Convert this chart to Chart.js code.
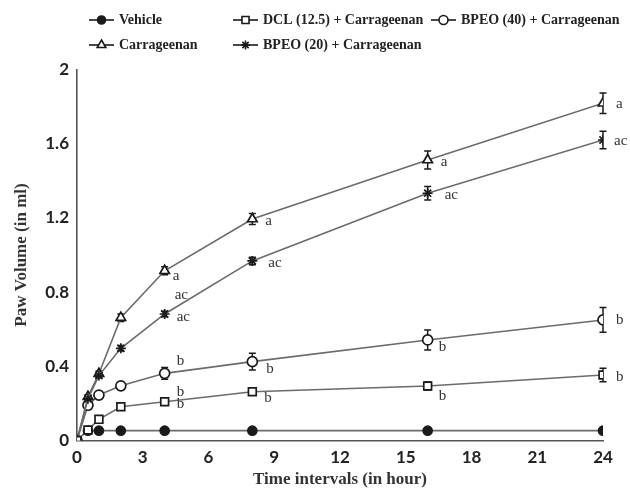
<!DOCTYPE html>
<html>
<head>
<meta charset="utf-8">
<script src="https://cdn.jsdelivr.net/npm/chart.js@4"></script>
<style>
  html, body { margin: 0; padding: 0; background: #fff; }
  #wrap { width: 630px; height: 490px; position: relative; }
</style>
</head>
<body>
<div id="wrap"><canvas id="paw" width="630" height="490"></canvas></div>
<script>
// Dados (volume da pata em ml)
const hours = [0, 0.5, 1, 2, 4, 8, 16, 24];
const xTicks = [0, 3, 6, 9, 12, 15, 18, 21, 24];
const yTicks = [0, 0.4, 0.8, 1.2, 1.6, 2];

const seriesNames = ['Vehicle', 'Carrageenan', 'DCL (12.5) + Carrageenan', 'BPEO (20) + Carrageenan', 'BPEO (40) + Carrageenan'];

const vehicle     = [null, 0.053, 0.053, 0.053, 0.053, 0.053, 0.053, 0.053];
const carrageenan = [0, 0.236, 0.36, 0.662, 0.915, 1.194, 1.512, 1.818];
const dcl         = [0, 0.057, 0.114, 0.182, 0.209, 0.263, 0.294, 0.353];
const bpeo20      = [0, 0.225, 0.35, 0.497, 0.682, 0.968, 1.333, 1.62];
const bpeo40      = [0, 0.19, 0.245, 0.295, 0.362, 0.425, 0.542, 0.65];

// Desvios (barras de erro)
const vehicleErr     = [0, 0, 0, 0, 0, 0, 0, 0];
const carrageenanErr = [0, 0.01, 0.015, 0.02, 0.022, 0.03, 0.048, 0.055];
const dclErr         = [0, 0.005, 0.008, 0.01, 0.012, 0.018, 0.022, 0.036];
const bpeo20Err      = [0, 0.01, 0.012, 0.015, 0.015, 0.02, 0.036, 0.047];
const bpeo40Err      = [0, 0.01, 0.012, 0.02, 0.032, 0.045, 0.054, 0.067];

// Letras de significância: [série, hora, texto]
const sigLetters = [
  [1, 4, 'a'], [1, 8, 'a'], [1, 16, 'a'], [1, 24, 'a'],
  [3, 4, 'ac'], [3, 4, 'ac'], [3, 8, 'ac'], [3, 16, 'ac'], [3, 24, 'ac'],
  [4, 4, 'b'], [4, 8, 'b'], [4, 16, 'b'], [4, 24, 'b'],
  [2, 4, 'b'], [2, 4, 'b'], [2, 8, 'b'], [2, 16, 'b'], [2, 24, 'b']
];
// deslocamentos em pixels (mesma ordem)
const sigOffsets = [
  [8, 5], [13, 2], [13, 2], [13, 1],
  [10, -19], [12, 3], [16, 2], [17, 2], [11, 1],
  [12, -12], [14, 7], [11, 7], [13, 0],
  [12, -10], [12, 2], [12, 6], [11, 10], [13, 2]
];

const LINE = '#6b6b6b';
const MARK = '#1a1a1a';

function pts(vals) {
  return hours.map((h, i) => ({ x: h, y: vals[i] }));
}

const styles = [
  { pointStyle: 'circle', radius: 4.5, fill: MARK, order: 5 },
  { pointStyle: 'triangle', radius: 5.5, fill: '#fff', order: 3 },
  { pointStyle: 'rect', radius: 5.5, fill: '#fff', order: 1 },
  { pointStyle: 'star', radius: 5, fill: '#fff', order: 2 },
  { pointStyle: 'circle', radius: 5, fill: '#fff', order: 4 }
];
const allVals = [vehicle, carrageenan, dcl, bpeo20, bpeo40];
const allErr = [vehicleErr, carrageenanErr, dclErr, bpeo20Err, bpeo40Err];

const datasets = seriesNames.map((name, i) => ({
  label: name,
  data: pts(allVals[i]),
  errors: allErr[i],
  borderColor: LINE,
  borderWidth: 1.6,
  pointStyle: styles[i].pointStyle,
  pointRadius: styles[i].radius,
  pointBackgroundColor: styles[i].fill,
  pointBorderColor: MARK,
  pointBorderWidth: 1.7,
  fill: false,
  tension: 0,
  spanGaps: true,
  order: styles[i].order
}));

// Barras de erro (desenhadas antes das linhas/marcadores)
const errorBars = {
  id: 'errorBars',
  beforeDatasetsDraw(chart) {
    const ctx = chart.ctx;
    const y = chart.scales.y;
    ctx.save();
    ctx.strokeStyle = MARK;
    ctx.lineWidth = 1.5;
    chart.data.datasets.forEach((ds, di) => {
      const meta = chart.getDatasetMeta(di);
      meta.data.forEach((pt, i) => {
        const v = ds.data[i].y;
        const e = ds.errors[i];
        if (v == null || !e) return;
        const top = y.getPixelForValue(v + e);
        const bot = y.getPixelForValue(v - e);
        ctx.beginPath();
        ctx.moveTo(pt.x, top); ctx.lineTo(pt.x, bot);
        ctx.moveTo(pt.x - 3.5, top); ctx.lineTo(pt.x + 3.5, top);
        ctx.moveTo(pt.x - 3.5, bot); ctx.lineTo(pt.x + 3.5, bot);
        ctx.stroke();
      });
    });
    ctx.restore();
  }
};

// Letras a / ac / b
const letters = {
  id: 'letters',
  afterDatasetsDraw(chart) {
    const ctx = chart.ctx;
    ctx.save();
    ctx.font = '15px "Liberation Serif"';
    ctx.fillStyle = '#333';
    ctx.textAlign = 'left';
    ctx.textBaseline = 'middle';
    sigLetters.forEach(([s, h, txt], k) => {
      const px = chart.scales.x.getPixelForValue(h);
      const py = chart.scales.y.getPixelForValue(allVals[s][hours.indexOf(h)]);
      ctx.fillText(txt, px + sigOffsets[k][0], py + sigOffsets[k][1]);
    });
    ctx.restore();
  }
};

// Legenda em grade (3 colunas x 2 linhas)
const gridLegend = {
  id: 'gridLegend',
  afterDraw(chart) {
    const ctx = chart.ctx;
    const cells = [[89, 20], [89, 45], [233, 20], [233, 45], [431, 20]];
    ctx.save();
    chart.data.datasets.forEach((ds, k) => {
      const [x, yy] = cells[k];
      ctx.strokeStyle = MARK;
      ctx.lineWidth = 1.6;
      ctx.beginPath();
      ctx.moveTo(x, yy); ctx.lineTo(x + 25, yy);
      ctx.stroke();
      ctx.fillStyle = ds.pointBackgroundColor;
      Chart.helpers.drawPoint(ctx, {
        pointStyle: ds.pointStyle, radius: ds.pointRadius - 0.5,
        rotation: 0, borderWidth: 1.6
      }, x + 12.5, yy);
      ctx.fillStyle = '#222';
      ctx.font = 'bold 14px "Liberation Serif"';
      ctx.textBaseline = 'middle';
      ctx.textAlign = 'left';
      ctx.fillText(ds.label, x + 30, yy);
    });
    ctx.restore();
  }
};

new Chart(document.getElementById('paw').getContext('2d'), {
  type: 'line',
  data: { datasets },
  options: {
    responsive: false,
    animation: false,
    layout: { padding: { top: 69.5, right: 27, left: 0, bottom: 0 } },
    plugins: { legend: { display: false }, tooltip: { enabled: false } },
    scales: {
      x: {
        type: 'linear',
        min: 0, max: 24,
        afterBuildTicks: (s) => { s.ticks = xTicks.map(v => ({ value: v })); },
        afterFit: (s) => { s.height = 49.5; },
        grid: { display: false, drawTicks: false },
        border: { display: true, color: '#555', width: 1.6 },
        ticks: { padding: 7, color: '#222', font: { family: 'Lato', weight: 'bold', size: 17 } },
        title: {
          display: true, text: 'Time intervals (in hour)', color: '#333',
          padding: { top: 0, bottom: 0 },
          font: { family: 'Liberation Serif', weight: 'bold', size: 17 }
        }
      },
      y: {
        min: 0, max: 2,
        afterBuildTicks: (s) => { s.ticks = yTicks.map(v => ({ value: v })); },
        afterFit: (s) => { s.width = 77; },
        grid: { display: false, drawTicks: false },
        border: { display: true, color: '#555', width: 1.6 },
        ticks: { padding: 8, color: '#222', font: { family: 'Lato', weight: 'bold', size: 17 },
                  callback: (v) => String(v) },
        title: {
          display: true, text: 'Paw Volume (in ml)', color: '#333',
          padding: { top: 11, bottom: 0 },
          font: { family: 'Liberation Serif', weight: 'bold', size: 17 }
        }
      }
    }
  },
  plugins: [errorBars, letters, gridLegend]
});
</script>
</body>
</html>
